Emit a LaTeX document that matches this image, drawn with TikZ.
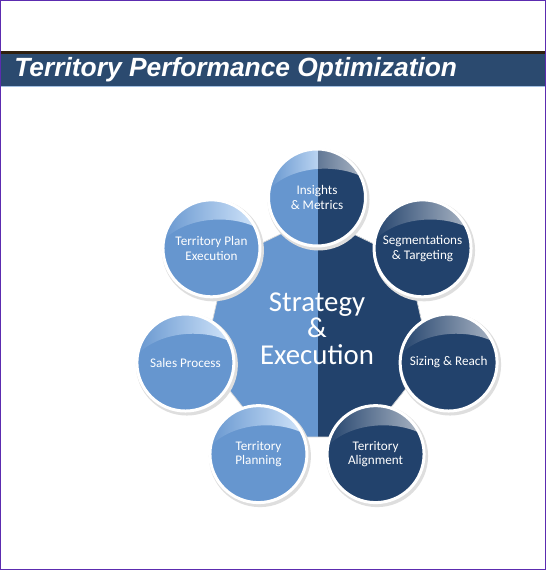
\documentclass[tikz,border=0pt]{standalone}
\usepackage{fontspec}
\setmainfont{Carlito}
\newfontfamily\titlefont{Liberation Sans}
\usepackage{xcolor}
\usetikzlibrary{shapes.geometric,calc}
\definecolor{paleblue}{RGB}{102,150,207}
\definecolor{navy}{RGB}{34,66,108}
\definecolor{barblue}{RGB}{43,74,111}
\definecolor{paleglare}{RGB}{214,232,252}
\definecolor{navyglare}{RGB}{176,186,200}
\definecolor{framepurple}{RGB}{92,44,176}
\tikzstyle{banner} = [anchor=base west, text=white, font=\titlefont\bfseries\itshape\fontsize{15pt}{18pt}\selectfont, inner sep=0pt]
\tikzstyle{hub} = [regular polygon, regular polygon sides=7, minimum size=4.64cm, inner sep=0pt, fill=paleblue, draw=black!15, text=white, align=center, text depth=0.16cm, font=\fontsize{16.4pt}{15.2pt}\selectfont,
  path picture={\fill[navy] ([xshift=0.02cm]path picture bounding box.north) rectangle (path picture bounding box.south east);}]
% glare crescent, built from the path picture box only
\newcommand{\glarepath}{([shift={(-1cm,1cm)}]path picture bounding box.center) -- ([shift={(-1cm,0.12cm)}]path picture bounding box.center)
  .. controls ([shift={(-0.5cm,0.68cm)}]path picture bounding box.center) and ([shift={(0.5cm,0.68cm)}]path picture bounding box.center)
  .. ([shift={(1cm,0.36cm)}]path picture bounding box.center) -- ([shift={(1cm,1cm)}]path picture bounding box.center) -- cycle}
\tikzset{
  spoke/.style 2 args={
    circle, minimum size=1.94cm, inner sep=0pt, align=center, text=white,
    font=\fontsize{7.5pt}{8.5pt}\selectfont,
    fill=#1, draw=white, line width=0.06cm,
    preaction={draw=black!13, line width=0.1cm, transform canvas={shift={(0.03cm,-0.04cm)}}}, % soft shadow
    path picture={\shade[left color=#1, right color=#2] \glarepath;}
  },
  splitspoke/.style={
    spoke={paleblue}{paleglare},
    path picture={
      \fill[navy] ([xshift=0.02cm]path picture bounding box.north) rectangle (path picture bounding box.south east);
      \begin{scope}
        \clip \glarepath;
        \shade[left color=paleblue, right color=paleglare!75!paleblue] (path picture bounding box.north west) rectangle ([xshift=0.02cm]path picture bounding box.south);
        \shade[left color=navy!55!navyglare, right color=navyglare] ([xshift=0.02cm]path picture bounding box.north) rectangle (path picture bounding box.south east);
      \end{scope}
    }
  }
}

\begin{document}
\begin{tikzpicture}[x=0.02cm, y=0.02cm]
    \useasboundingbox (0,0) rectangle (546,570);
    \fill[white] (0,0) rectangle (546,570);
    % title bar
    \fill[barblue] (0,483) rectangle (546,518);
    \fill[black!75!brown] (0,516) rectangle (546,519);
    \fill[paleblue!60] (0,482.5) rectangle (546,483.5);
    \node (title)[banner] at (14,493) {Territory Performance Optimization};

    \node (hub)[hub] at (317,237.5) {Strategy\\\&\\Execution};

    \node (insights)[splitspoke] at ($(hub)+(90:135)$) {Insights\\\& Metrics};
    \node (segments)[spoke={navy}{navyglare}] at ($(hub)+(38.57:135)$) {Segmentations\\\& Targeting};
    \node (sizing)[spoke={navy}{navyglare}] at ($(hub)+(-12.86:135)$) {Sizing \& Reach};
    \node (alignment)[spoke={navy}{navyglare}] at ($(hub)+(-64.29:135)$) {Territory\\Alignment};
    \node (planning)[spoke={paleblue}{paleglare}] at ($(hub)+(-115.71:135)$) {Territory\\Planning};
    \node (sales)[spoke={paleblue}{paleglare}] at ($(hub)+(192.86:135)$) {Sales Process};
    \node (execution)[spoke={paleblue}{paleglare}] at ($(hub)+(141.43:135)$) {Territory Plan\\Execution};

    \draw[framepurple, line width=0.03cm] (0.75,0.75) rectangle (545.25,569.25);
  \end{tikzpicture}
\end{document}
